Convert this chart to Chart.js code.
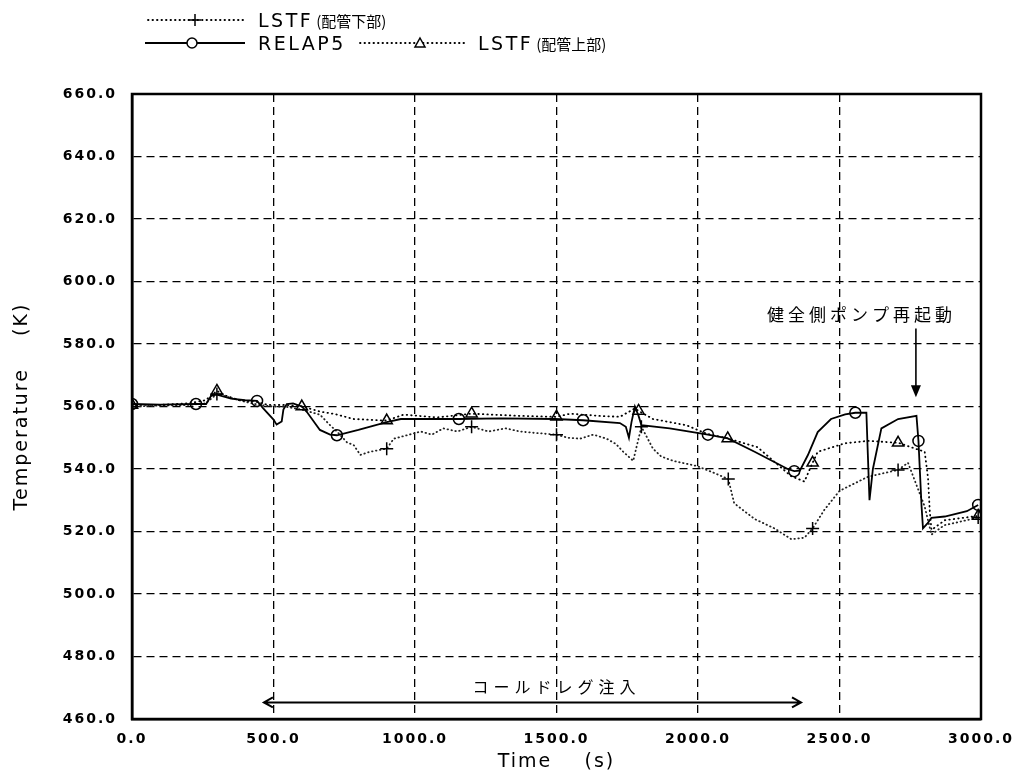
<!DOCTYPE html>
<html>
<head>
<meta charset="utf-8">
<script src="https://cdn.jsdelivr.net/npm/chart.js@4.4.1/dist/chart.umd.min.js"></script>
<style>
    body { margin: 0; background: #fff; }
    #wrap { position: relative; width: 1027px; height: 780px; }
    #chart { position: absolute; left: 0; top: 0; }
    #legendMarks { position: absolute; left: 0; top: 0; }
    .lab { position: absolute; font-family: "DejaVu Sans", sans-serif; font-size: 19px; letter-spacing: 2.5px; line-height: 22px; color: #000; white-space: nowrap; }
    .lab small { font-family: "Noto Sans CJK JP", sans-serif; font-size: 15px; letter-spacing: 0; margin-left: 3px; }
</style>
</head>
<body>
<div id="wrap">
    <canvas id="chart" width="1027" height="780"></canvas>
    <svg id="legendMarks" width="500" height="60">
        <line x1="148" y1="20" x2="245" y2="20" stroke="#000" stroke-width="1.8" stroke-linecap="round" stroke-dasharray="0.5 4"/>
        <path d="M189 20h12M195 14v12" stroke="#000" stroke-width="1.5" fill="none"/>
        <line x1="145" y1="43" x2="245" y2="43" stroke="#000" stroke-width="1.8"/>
        <circle cx="192" cy="43" r="5" fill="#fff" stroke="#000" stroke-width="1.5"/>
        <line x1="360" y1="43" x2="467" y2="43" stroke="#000" stroke-width="1.8" stroke-linecap="round" stroke-dasharray="0.5 4"/>
        <path d="M420 38 L425 47 L415 47 Z" fill="#fff" stroke="#000" stroke-width="1.5"/>
    </svg>
    <div class="lab" style="left:258px;top:9px">LSTF<small>(配管下部)</small></div>
    <div class="lab" style="left:258px;top:32px">RELAP5</div>
    <div class="lab" style="left:478px;top:32px">LSTF<small>(配管上部)</small></div>
</div>
<script>
// RELAP5 calculation (solid, circles)
var relapTime = [0, 100, 226, 262, 280, 300, 350, 400, 442, 463, 500, 511, 529, 535, 547, 569, 600, 620, 664, 700,
    724, 800, 900, 950, 1077, 1155, 1300, 1495, 1594, 1724, 1745, 1756, 1765, 1777, 1790, 1800, 1900, 2035, 2105, 2200,
    2317, 2340, 2360, 2388, 2423, 2470, 2520, 2556, 2595, 2600, 2606, 2612, 2618, 2648, 2707, 2772, 2779, 2790, 2795, 2810,
    2825, 2872, 2950, 2990];
var relapTemp = [560.8, 560.6, 560.8, 560.8, 563.5, 563.8, 562.5, 562, 561.8, 559.5, 555.8, 554.2, 555.2, 559, 560.8, 561, 560, 558, 552.5, 551,
    550.8, 552.5, 555, 556, 556, 556, 556.2, 556, 555.6, 554.7, 553.5, 550, 555, 560, 557, 554, 553, 551, 549.8, 545.5,
    540, 539.3, 539.5, 544.4, 551.8, 556, 557.5, 558, 558, 545, 530, 535, 540, 553, 556, 557, 549, 528, 521, 522.5,
    524.4, 524.8, 526.5, 528.5];
var relapMarks = [0, 226, 442, 724, 1155, 1594, 2035, 2340, 2556, 2779, 2990];

// LSTF, upper part of pipe (dotted, triangles)
var upperTime = [0, 100, 200, 260, 300, 330, 380, 440, 480, 540, 600, 664, 720, 783, 900, 960, 1077, 1200, 1371, 1500,
    1548, 1650, 1724, 1777, 1790, 1841, 1959, 2030, 2105, 2210, 2329, 2376, 2405, 2423, 2518, 2600, 2707, 2801, 2813, 2819,
    2825, 2872, 2990];
var upperTemp = [560.5, 560.5, 561, 562, 565, 563.5, 562, 561.5, 560.5, 560.5, 560, 558.4, 557.5, 556, 555.5, 557.4, 556.5, 557.7, 557, 556.7,
    557.7, 557, 556.7, 559.4, 558.6, 556, 554, 551.3, 549.8, 547, 537.7, 536, 542, 545.5, 548.2, 549, 548.4, 545.5, 537, 526.5,
    520.5, 523.6, 525];
var upperMarks = [0, 300, 600, 900, 1200, 1500, 1790, 2105, 2405, 2707, 2990];

// LSTF, lower part of pipe (dotted, plus)
var lowerTime = [0, 100, 200, 260, 300, 340, 400, 450, 500, 540, 600, 664, 700, 724, 760, 783, 807, 840, 900, 925,
    980, 1020, 1060, 1100, 1150, 1200, 1260, 1320, 1371, 1430, 1500, 1540, 1583, 1630, 1677, 1710, 1736, 1771, 1800, 1841,
    1870, 1912, 1994, 2050, 2107, 2128, 2200, 2270, 2330, 2376, 2405, 2447, 2500, 2600, 2707, 2742, 2801, 2825, 2870, 2920,
    2990];
var lowerTemp = [560, 560.3, 560.5, 561, 564, 563, 561.5, 560.5, 560, 560, 559, 557.4, 554, 552, 548.5, 547.7, 544.5, 545.5, 546.5, 549.7,
    551, 552, 551, 553, 552, 553.5, 552, 553, 552, 551.5, 551, 550, 549.7, 551, 549.7, 548, 545.5, 542.6, 553.5, 546.5,
    544, 542.6, 541, 539, 536.8, 529, 524, 521, 517.5, 518, 521, 527, 533, 537.5, 539.7, 542, 528, 519, 522, 523,
    524.5];
var lowerMarks = [0, 300, 900, 1200, 1500, 1800, 2107, 2405, 2707, 2990];

var xTicks = [0, 500, 1000, 1500, 2000, 2500, 3000];
var yTicks = [460, 480, 500, 520, 540, 560, 580, 600, 620, 640, 660];

// annotations (time, temperature)
var pumpNote = { text: '健全側ポンプ再起動', tx: 2578, ty: 589.5, at: 2770, from: 585, to: 563 };
var coldNote = { text: 'コールドレグ注入', tx: 1500, ty: 470.3, from: 466, to: 2364, at: 465.3 };

function toPoints(ts, vs) {
    return ts.map(function (t, i) { return { x: t, y: vs[i] }; });
}

function markRadius(marks, r) {
    return function (c) {
        return (c.raw && marks.indexOf(c.raw.x) >= 0) ? r : 0;
    };
}

var frameAndNotes = {
    id: 'frameAndNotes',
    beforeInit: function (chart) { chart.ctx.letterSpacing = '2px'; },
    beforeDraw: function (chart) { chart.ctx.letterSpacing = '2px'; },
    afterDraw: function (chart) {
        var ctx = chart.ctx, a = chart.chartArea;
        var x = chart.scales.x, y = chart.scales.y;
        ctx.save();
        ctx.setLineDash([]);
        ctx.strokeStyle = '#000';
        ctx.lineWidth = 2.5;
        ctx.strokeRect(a.left, a.top, a.right - a.left, a.bottom - a.top);

        ctx.fillStyle = '#000';
        ctx.textAlign = 'center';
        ctx.textBaseline = 'middle';
        ctx.letterSpacing = '4px';
        ctx.font = '17px "Noto Sans CJK JP"';
        ctx.fillText(pumpNote.text, x.getPixelForValue(pumpNote.tx), y.getPixelForValue(pumpNote.ty));

        var px = x.getPixelForValue(pumpNote.at);
        var y1 = y.getPixelForValue(pumpNote.from), y2 = y.getPixelForValue(pumpNote.to);
        ctx.lineWidth = 1.6;
        ctx.beginPath();
        ctx.moveTo(px, y1);
        ctx.lineTo(px, y2 - 8);
        ctx.stroke();
        ctx.beginPath();
        ctx.moveTo(px, y2);
        ctx.lineTo(px - 5, y2 - 12);
        ctx.lineTo(px + 5, y2 - 12);
        ctx.closePath();
        ctx.fill();

        ctx.letterSpacing = '5px';
        ctx.font = '16px "Noto Sans CJK JP"';
        ctx.fillText(coldNote.text, x.getPixelForValue(coldNote.tx), y.getPixelForValue(coldNote.ty));

        var cy = y.getPixelForValue(coldNote.at);
        var cx1 = x.getPixelForValue(coldNote.from), cx2 = x.getPixelForValue(coldNote.to);
        ctx.lineWidth = 2;
        ctx.beginPath();
        ctx.moveTo(cx1, cy);
        ctx.lineTo(cx2, cy);
        ctx.moveTo(cx1 + 9, cy - 5);
        ctx.lineTo(cx1, cy);
        ctx.lineTo(cx1 + 9, cy + 5);
        ctx.moveTo(cx2 - 9, cy - 5);
        ctx.lineTo(cx2, cy);
        ctx.lineTo(cx2 - 9, cy + 5);
        ctx.stroke();
        ctx.restore();
    }
};

var tickFont = { family: 'DejaVu Sans', size: 14, weight: 'bold' };
var titleFont = { family: 'DejaVu Sans', size: 19 };

var ctx = document.getElementById('chart');
var myChart = new Chart(ctx, {
    type: 'line',
    data: {
        datasets: [{
            label: 'RELAP5',
            data: toPoints(relapTime, relapTemp),
            borderColor: '#000',
            borderWidth: 1.8,
            pointStyle: 'circle',
            pointRadius: markRadius(relapMarks, 5.5),
            pointBorderWidth: 1.5,
            pointBorderColor: '#000',
            pointBackgroundColor: 'rgba(0,0,0,0)',
            tension: 0
        }, {
            label: 'LSTF (配管上部)',
            data: toPoints(upperTime, upperTemp),
            borderColor: '#000',
            borderWidth: 1.8,
            borderDash: [0.5, 4],
            borderCapStyle: 'round',
            pointStyle: 'triangle',
            pointRadius: markRadius(upperMarks, 6.5),
            pointBorderWidth: 1.5,
            pointBorderColor: '#000',
            pointBackgroundColor: 'rgba(0,0,0,0)',
            tension: 0
        }, {
            label: 'LSTF (配管下部)',
            data: toPoints(lowerTime, lowerTemp),
            borderColor: '#222',
            borderWidth: 1.8,
            borderDash: [0.5, 3.5],
            borderCapStyle: 'round',
            pointStyle: 'cross',
            pointRadius: markRadius(lowerMarks, 6.5),
            pointBorderWidth: 1.5,
            pointBorderColor: '#000',
            tension: 0
        }]
    },
    options: {
        responsive: false,
        animation: false,
        events: [],
        layout: { padding: { left: 0, top: 94, right: 46, bottom: 0 } },
        plugins: {
            legend: { display: false },
            tooltip: { enabled: false }
        },
        scales: {
            x: {
                type: 'linear',
                min: 0,
                max: 3000,
                afterBuildTicks: function (scale) {
                    scale.ticks = xTicks.map(function (v) { return { value: v }; });
                },
                afterFit: function (scale) { scale.height = 61; },
                ticks: {
                    font: tickFont,
                    color: '#000',
                    padding: 12,
                    maxRotation: 0,
                    callback: function (v) { return Number(v).toFixed(1); }
                },
                grid: { color: '#000', lineWidth: 1.3, drawTicks: false },
                border: { color: '#000', width: 2.5, dash: [8, 5] },
                title: { display: true, text: 'Time    (s)', font: titleFont, color: '#000', padding: { top: 0, bottom: 7 } }
            },
            y: {
                min: 460,
                max: 660,
                afterBuildTicks: function (scale) {
                    scale.ticks = yTicks.map(function (v) { return { value: v }; });
                },
                afterFit: function (scale) { scale.width = 132; },
                ticks: {
                    font: tickFont,
                    color: '#000',
                    padding: 15,
                    callback: function (v) { return Number(v).toFixed(1); }
                },
                grid: { color: '#000', lineWidth: 1.3, drawTicks: false },
                border: { color: '#000', width: 2.5, dash: [8, 5] },
                title: { display: true, text: 'Temperature    (K)', font: titleFont, color: '#000', padding: { top: 11, bottom: 0 } }
            }
        }
    },
    plugins: [frameAndNotes]
});
</script>
</body>
</html>
